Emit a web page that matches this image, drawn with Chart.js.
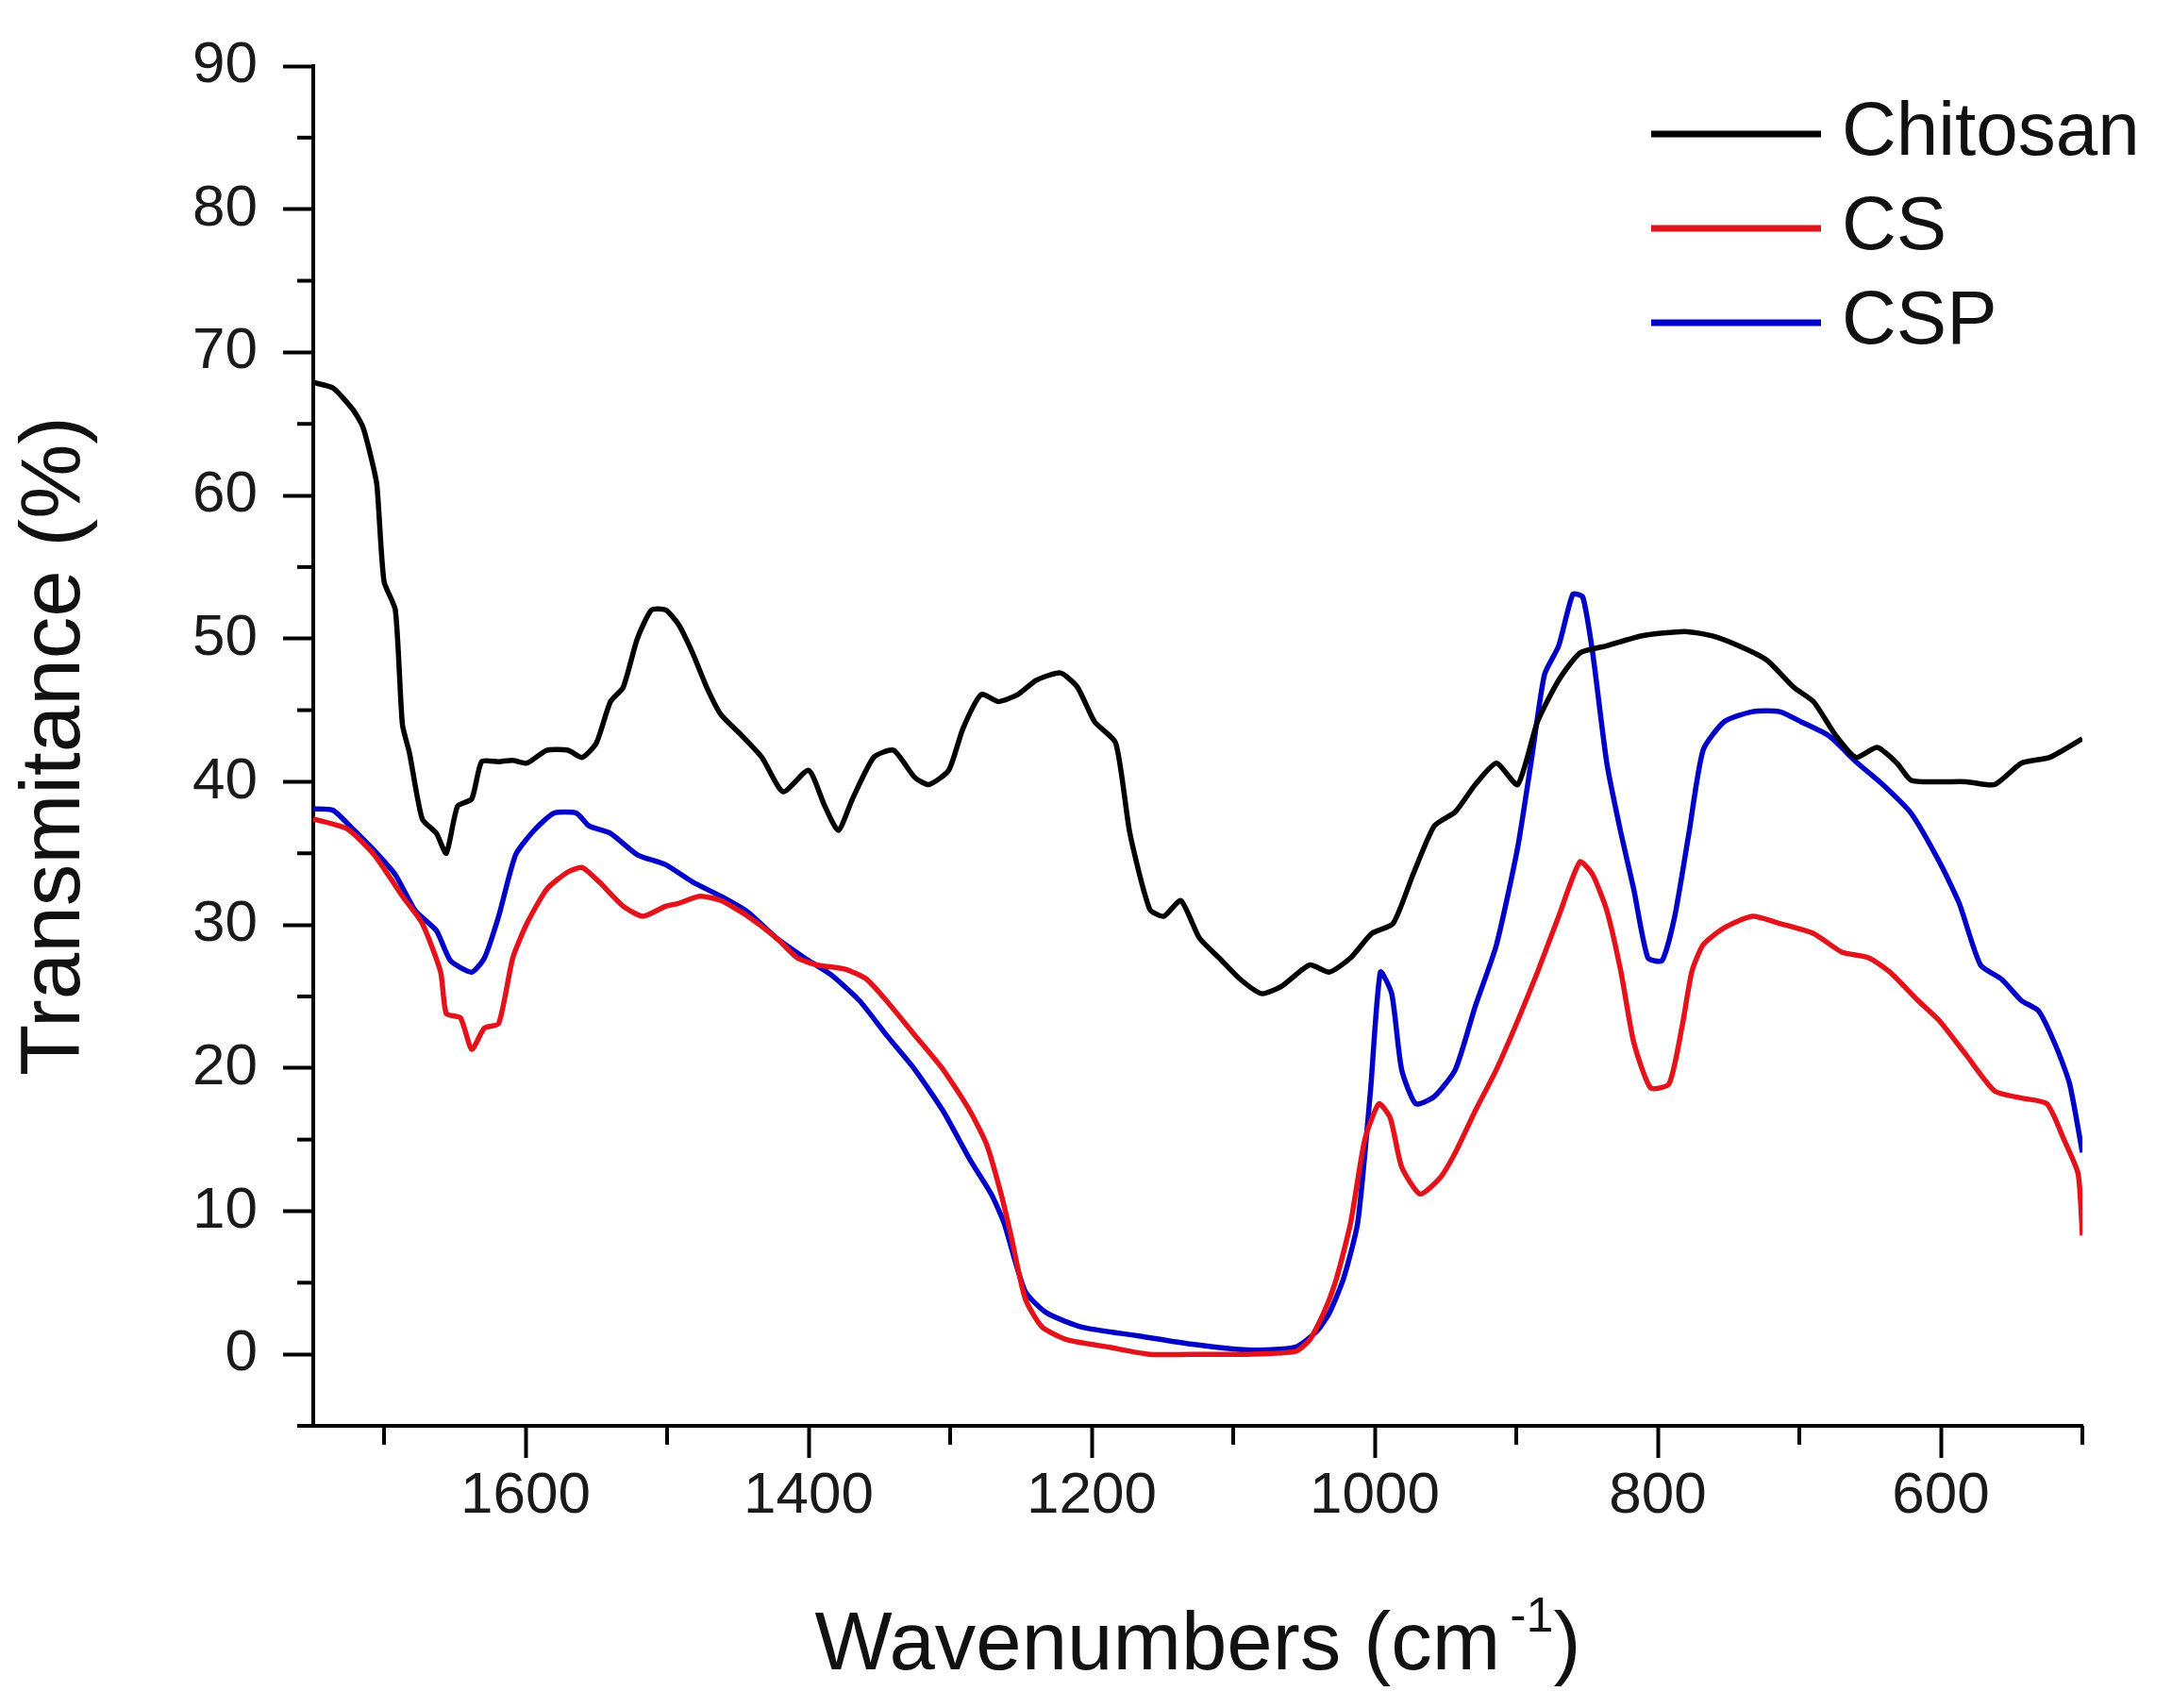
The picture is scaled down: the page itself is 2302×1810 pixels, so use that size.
<!DOCTYPE html>
<html><head><meta charset="utf-8">
<script src="https://cdn.jsdelivr.net/npm/chart.js@4.4.1/dist/chart.umd.min.js"></script>
<style>html,body{margin:0;padding:0;background:#fff;}#wrap{width:2302px;height:1810px;}</style>
</head><body><div id="wrap"><canvas id="c" width="2302" height="1810"></canvas></div>
<script>
const seriesNames = ['Chitosan', 'CS', 'CSP'];
const seriesColors = ['#000000', '#e4131b', '#0000c8'];
const xMajorTicks = [1600, 1400, 1200, 1000, 800, 600];
const xMinorTicks = [1700, 1500, 1300, 1100, 900, 700, 500];
const yMajorTicks = [0, 10, 20, 30, 40, 50, 60, 70, 80, 90];
const yMinorTicks = [-5, 5, 15, 25, 35, 45, 55, 65, 75, 85];
const xTitle = 'Wavenumbers (cm';
const xTitleSup = '-1';
const yTitle = 'Transmitance (%)';

const chitosanWn = [1750,1736,1722,1715,1709,1705,1700,1692,1687,1682,1673,1663,1656,1648,1638,1631,1619,1609,1599,1585,1570,1560,1550,1540,1531,1521,1511,1501,1492,1482,1472,1462,1447,1433,1418,1400,1389,1379,1369,1354,1340,1325,1315,1301,1291,1278,1266,1252,1239,1222,1210,1198,1183,1173,1159,1149,1137,1124,1110,1095,1080,1066,1046,1032,1017,1002,987,973,958,943,929,914,899,885,870,855,836,811,781,762,743,723,704,690,674,660,645,631,621,601,582,562,543,523,500];
const chitosanT = [67.9,67.5,66,64.8,62.6,60.7,54,52,44,42,37.4,36.4,35,38.3,38.8,41.4,41.4,41.5,41.3,42.2,42.2,41.7,42.7,45.6,46.6,50,52,52,51,49,46.6,44.7,43.2,41.7,39.3,40.8,38.4,36.6,38.8,41.7,42.2,40.3,39.8,40.8,43.7,46.1,45.6,46.1,47.1,47.6,46.6,44.2,42.7,36.4,31.1,30.6,31.7,29.1,27.7,26.2,25.2,25.7,27.2,26.7,27.7,29.4,30.1,33.5,36.9,37.9,39.8,41.3,39.8,44.2,47.1,49,49.5,50.2,50.5,50.2,49.5,48.5,46.6,45.6,43.2,41.7,42.4,41.3,40.1,40,40,39.8,41.3,41.7,43];

const csWn = [1750,1726,1707,1687,1673,1660,1656,1646,1638,1629,1619,1609,1599,1585,1570,1560,1548,1531,1517,1501,1492,1477,1462,1443,1423,1408,1394,1374,1359,1345,1325,1305,1286,1274,1264,1257,1247,1235,1217,1188,1159,1120,1090,1056,1046,1036,1027,1017,1007,997,989,981,968,954,943,929,914,899,885,870,855,846,836,826,817,805,792,783,776,768,753,733,714,690,670,651,636,616,601,582,562,543,525,513,503,500];
const csT = [37.4,36.7,34.9,32,30.1,26.7,23.8,23.5,21.3,22.8,23.1,27.7,30.1,32.5,33.7,34,33,31.3,30.6,31.3,31.5,32,31.7,30.6,29.1,27.7,27.2,26.9,26.2,24.7,22.3,19.9,17,14.6,11.2,8.3,3.9,1.9,1,0.5,0,0,0,0.2,1,2.9,5.3,9.2,15,17.5,16.5,13.1,11.2,12.3,14.1,17,19.9,23.3,26.7,30.6,34.4,33.5,31,26.7,21.8,18.6,18.9,22.8,26.7,28.6,29.8,30.6,30.1,29.4,28.1,27.7,26.7,24.7,23.3,20.9,18.4,17.9,17.5,15,12.6,8.3];

const cspWn = [1750,1736,1722,1707,1692,1678,1663,1653,1638,1629,1619,1607,1594,1580,1564,1555,1540,1521,1501,1482,1462,1443,1423,1403,1384,1364,1345,1325,1305,1286,1271,1262,1247,1232,1207,1168,1129,1090,1056,1041,1032,1022,1012,1003,996,988,981,971,958,943,929,914,899,889,880,870,860,853,846,836,826,817,807,797,788,778,768,753,733,714,699,679,660,641,621,601,587,572,557,543,531,519,509,500];
const cspT = [38.1,38,36.7,35.2,33.5,31,29.6,27.5,26.7,27.7,30.6,34.9,36.6,37.8,37.8,36.9,36.4,34.9,34.2,33,32,30.9,29.1,27.7,26.5,24.7,22.3,19.9,17,13.6,11.2,9.2,4.4,2.9,1.9,1.3,0.7,0.3,0.5,1.6,2.9,5.3,9.2,18.4,26.7,25.2,19.9,17.5,18,19.9,24.3,28.6,35.4,41.7,47.5,49.5,53.1,52.9,49,41.3,36.4,32.5,27.7,27.5,30.6,36.4,42.2,44.2,44.9,44.9,44.2,43.2,41.4,39.8,37.8,34.4,31.5,27.2,26.2,24.7,24,21.6,18.9,14.1];

const FONT = '"Liberation Sans", Arial, sans-serif';
const seriesWn = [chitosanWn, csWn, cspWn];
const seriesT = [chitosanT, csT, cspT];

const datasets = seriesNames.map((name, i) => ({
  label: name,
  data: seriesWn[i].map((w, k) => ({x: w, y: seriesT[i][k]})),
  borderColor: seriesColors[i],
  backgroundColor: seriesColors[i],
  borderWidth: 5.5,
  pointRadius: 0,
  tension: 0.2,
  fill: false
}));

const extrasPlugin = {
  id: 'extras',
  afterDraw(chart) {
    const ctx = chart.ctx, ca = chart.chartArea;
    const xs = chart.scales.x, ys = chart.scales.y;
    ctx.save();
    ctx.strokeStyle = '#000';
    ctx.lineWidth = 4;
    ctx.lineCap = 'butt';
    yMinorTicks.forEach(v => {
      const y = ys.getPixelForValue(v);
      ctx.beginPath(); ctx.moveTo(ca.left - 17, y); ctx.lineTo(ca.left, y); ctx.stroke();
    });
    xMinorTicks.forEach(v => {
      const x = xs.getPixelForValue(v);
      ctx.beginPath(); ctx.moveTo(x, ca.bottom); ctx.lineTo(x, ca.bottom + 20); ctx.stroke();
    });
    // legend
    ctx.font = '80px ' + FONT;
    ctx.textBaseline = 'middle';
    ctx.textAlign = 'left';
    chart.data.datasets.forEach((ds, i) => {
      const y = ca.top + 72 + i * 100;
      ctx.strokeStyle = ds.borderColor;
      ctx.lineWidth = 7;
      ctx.beginPath(); ctx.moveTo(ca.right - 457, y); ctx.lineTo(ca.right - 277, y); ctx.stroke();
      ctx.fillStyle = '#111';
      ctx.fillText(ds.label, ca.right - 255, y);
    });
    // x title with superscript
    ctx.fillStyle = '#111';
    ctx.textBaseline = 'alphabetic';
    const mainFont = '87px ' + FONT, supFont = '52px ' + FONT;
    ctx.font = mainFont; const w1 = ctx.measureText(xTitle).width; const w3 = ctx.measureText(')').width;
    ctx.font = supFont; const w2 = ctx.measureText(xTitleSup).width;
    const gap = 10;
    const total = w1 + gap + w2 + w3;
    let x = (ca.left + ca.right) / 2 - total / 2;
    const base = 1769;
    ctx.font = mainFont; ctx.fillText(xTitle, x, base); x += w1 + gap;
    ctx.font = supFont; ctx.fillText(xTitleSup, x, base - 40); x += w2;
    ctx.font = mainFont; ctx.fillText(')', x, base);
    ctx.restore();
  }
};

new Chart(document.getElementById('c'), {
  type: 'line',
  data: {datasets},
  options: {
    responsive: false,
    animation: false,
    devicePixelRatio: 1,
    layout: {padding: {left: 0, top: 70, right: 95, bottom: 0}},
    plugins: {legend: {display: false}, tooltip: {enabled: false}},
    scales: {
      x: {
        type: 'linear', reverse: true, min: 500, max: 1750,
        afterBuildTicks: s => { s.ticks = xMajorTicks.map(v => ({value: v})); },
        afterFit: s => { s.height = 299; },
        grid: {drawOnChartArea: false, drawTicks: true, tickLength: 34, tickWidth: 4, tickColor: '#000'},
        border: {display: true, color: '#000', width: 4},
        ticks: {font: {family: FONT, size: 62}, color: '#1a1a1a', padding: 4, maxRotation: 0, autoSkip: false, callback: v => String(v)},
        title: {display: false}
      },
      y: {
        type: 'linear', min: -5, max: 90,
        afterBuildTicks: s => { s.ticks = yMajorTicks.map(v => ({value: v})); },
        afterFit: s => { s.width = 332; },
        grid: {drawOnChartArea: false, drawTicks: true, tickLength: 32, tickWidth: 4, tickColor: '#000'},
        border: {display: true, color: '#000', width: 4},
        ticks: {font: {family: FONT, size: 62}, color: '#1a1a1a', padding: 27, autoSkip: false, callback: v => String(v)},
        title: {display: true, text: yTitle, color: '#111', font: {family: FONT, size: 89, lineHeight: 1}, padding: {top: 15, bottom: 0}}
      }
    }
  },
  plugins: [extrasPlugin]
});
</script></body></html>
